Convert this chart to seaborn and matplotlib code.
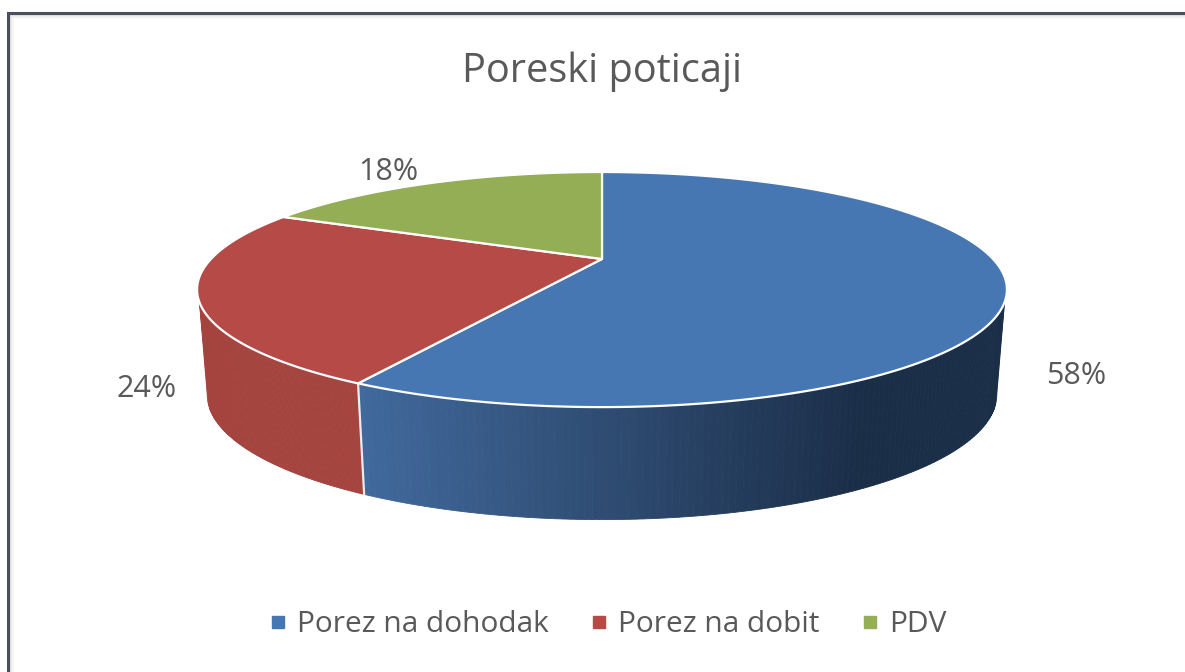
import matplotlib
matplotlib.use("Agg")
import matplotlib.pyplot as plt
from matplotlib.lines import Line2D
from matplotlib.colors import to_rgb
import numpy as np
import seaborn as sns

# podaci
kategorije = ["Porez na dohodak", "Porez na dobit", "PDV"]
vrijednosti = [58, 24, 18]
naslov = "Poreski poticaji"

sns.set_theme(style="white")
plt.rcParams['font.family'] = ['Open Sans', 'DejaVu Sans']

boje = sns.color_palette(["#4677b3", "#b54a46", "#93ae54"])
tamna_plava = "#1b2e48"
boja_teksta = "#595959"
boja_okvira = "#4a4f5e"

# geometrija pite u pikselima slike
CX, CY = 602, 259
A, B, K = 391, 109.6, 0.26
ELIPSA_Y = 290
DNO_Y, DNO_SX, DNO_SY = 395, 0.975, 1.064
SILUETA = -21


def vrh(theta):
    # perspektivna projekcija kruga, vrijednost theta u stupnjevima
    t = np.radians(theta)
    w = 1 + K * np.sin(t)
    return CX + A * np.cos(t) / w, CY - B * np.sin(t) / w


def dno(theta):
    x, y = vrh(theta)
    return CX + DNO_SX * (x - CX), DNO_Y + DNO_SY * (y - ELIPSA_Y)


def boja_zida(i, x):
    if i == 0:
        t = np.clip((x - 360) / 500, 0, 1)
        a, b = np.array(to_rgb("#41699c")), np.array(to_rgb(tamna_plava))
        return tuple(a + (b - a) * t)
    return "#a5443f"


fig = plt.figure(figsize=(11.85, 6.72), dpi=100)
ax = fig.add_axes([0, 0, 1, 1])
ax.set_xlim(0, 1185)
ax.set_ylim(672, 0)
ax.axis("off")

# okvir sa sjenom
for d, siva in zip([2, 3, 4, 5], ["#d2d2d2", "#e2e2e2", "#eeeeee", "#f7f7f7"]):
    ax.plot([8 + d, 8 + d, 1185], [672, 13 + d, 13 + d], color=siva, lw=1.2, solid_capstyle="butt")
ax.plot([8, 8, 1185], [672, 13, 13], color=boja_okvira, lw=2.2, solid_joinstyle="miter")

# uglovi kriski, krece od vrha pite u smjeru kazaljke
kumulativ = np.cumsum([0] + vrijednosti)
pocetak = 90 - kumulativ[:-1] * 3.6
kraj = 90 - kumulativ[1:] * 3.6

# vidljivi dio zida ide od desnog do lijevog ruba elipse
desni = SILUETA
lijevi = -180 - desni

for i in range(len(vrijednosti)):
    t0 = min(pocetak[i], desni)
    t1 = max(kraj[i], lijevi)
    if t0 <= t1:
        continue
    ugl = np.linspace(t0, t1, 121)
    for u0, u1 in zip(ugl[:-1], ugl[1:]):
        xs0, ys0 = vrh(u0)
        xs1, ys1 = vrh(u1)
        xd0, yd0 = dno(u0)
        xd1, yd1 = dno(u1)
        c = boja_zida(i, (xs0 + xs1) / 2)
        ax.fill([xs0, xs1, xd1, xd0], [ys0, ys1, yd1, yd0], color=c, lw=0.6, zorder=2)

# zaobljeni donji uglovi siluete
for i, pola in [(0, desni), (1, lijevi)]:
    smjer = 1 if i == 0 else -1
    ugl = np.linspace(pola, pola + smjer * 6, 8)
    xd, yd = dno(ugl)
    xs, ys = vrh(pola)
    ax.fill(np.r_[xs, xd], np.r_[ys, yd], color=boja_zida(i, xs), lw=0.6, zorder=2)

# bijeli sav izmedju zidova
sx, sy = vrh(kraj[0])
dx, dy = dno(kraj[0])
ax.plot([sx, dx], [sy, dy], color="#e8edf2", lw=1.6, zorder=3)

# gornja ploha
for i in range(len(vrijednosti)):
    ugl = np.linspace(pocetak[i], kraj[i], 200)
    xs, ys = vrh(ugl)
    ax.fill(np.r_[CX, xs], np.r_[CY, ys], facecolor=boje[i], edgecolor="white", lw=1.6,
            joinstyle="round", zorder=4)

# oznake postotaka
pozicije = [(1076, 376), (147, 389), (388, 172)]
for v, (x, y) in zip(vrijednosti, pozicije):
    ax.text(x, y, f"{v}%", ha="center", va="center", fontsize=22, color=boja_teksta, zorder=5)

ax.text(602, 72, naslov, ha="center", va="center", fontsize=28.6, color=boja_teksta)

rucke = [Line2D([], [], marker="s", linestyle="none", markersize=8, color=c) for c in boje]
ax.legend(rucke, kategorije, loc="center", bbox_to_anchor=(605.5 / 1185, 1 - 625 / 672), ncol=3,
          frameon=False, fontsize=21.5, labelcolor=boja_teksta, handlelength=0.9,
          handletextpad=0.2, columnspacing=1.22)

fig.savefig("out.png", dpi=100)
